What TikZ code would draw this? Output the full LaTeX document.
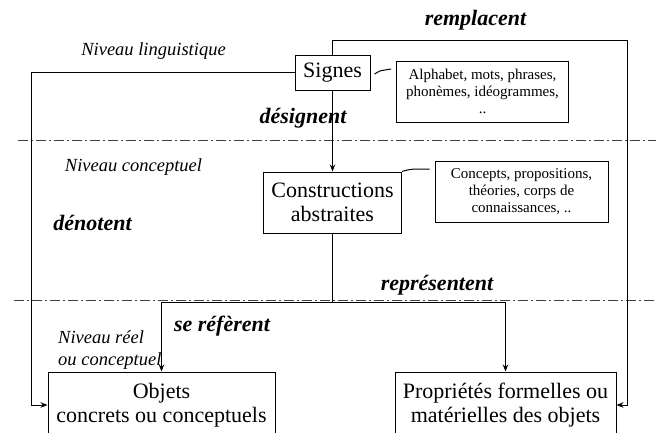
\documentclass[tikz,border=0pt]{standalone}
\usepackage{fontspec}
\setmainfont{Liberation Serif}
\usetikzlibrary{arrows.meta}

\tikzset{
    box/.style={draw, line width=1pt, align=center, inner sep=0pt, font=\fontsize{22}{24}\selectfont},
    smallbox/.style={draw, line width=1pt, align=center, inner sep=0pt, font=\fontsize{15}{17}\selectfont},
    lvl/.style={inner sep=0pt, align=left, font=\fontsize{18.5}{22}\selectfont\itshape},
    verb/.style={inner sep=0pt, font=\fontsize{22}{24}\selectfont\bfseries\itshape},
    sep/.style={black!75, line width=0.8pt, dash pattern=on 10pt off 3pt on 2pt off 3pt},
    link/.style={line width=1pt}
}

\begin{document}
\begin{tikzpicture}[x=1pt, y=-1pt, >={Stealth[length=7pt,width=5.5pt]}]
    \useasboundingbox (0,0) rectangle (656,432);
    \draw[sep] (18,140) -- (656,140);
    \draw[sep] (14,300) -- (656,300);
    \node[box, minimum width=75, minimum height=35] (sig) at (332.5,72.5) {Signes};
    \node[smallbox, minimum width=172, minimum height=61] (alpha) at (482.5,91.5) {Alphabet, mots, phrases,\\phonèmes, idéogrammes,\\..};
    \node[box, minimum width=138, minimum height=61] (cons) at (332.5,202.5) {Constructions\\abstraites};
    \node[smallbox, minimum width=173, minimum height=61] (conc) at (521.5,191.5) {Concepts, propositions,\\théories, corps de\\connaissances, ..};
    \node[box, minimum width=227, minimum height=66] (obj) at (161.5,405) {Objets\\concrets ou conceptuels};
    \node[box, minimum width=221, minimum height=66] (prop) at (505.5,405) {Propriétés formelles ou\\matérielles des objets};
    \node[lvl, anchor=base] (lling) at (153.5,55) {Niveau linguistique};
    \node[lvl, anchor=base] (lconc) at (133.5,171) {Niveau conceptuel};
    \node[lvl, anchor=north west] (lreel) at (58,330) {Niveau réel\\ou conceptuel};
    \node[verb, anchor=base] (vremp) at (475.5,25) {remplacent};
    \node[verb, anchor=base] (vdesi) at (303,123) {désignent};
    \node[verb, anchor=base] (vdeno) at (92.5,230) {dénotent};
    \node[verb, anchor=base] (vrepr) at (437,290) {représentent};
    \node[verb, anchor=base] (vrefe) at (222,331) {se réfèrent};
    \coordinate (lc) at (31,405);
    \coordinate (rc) at (627,40);
    \coordinate (fork) at (332.5,302);
    \draw[link, ->] (sig.west) -| (lc) -- (obj.west);
    \draw[link, ->] (sig.north) |- (rc) |- (prop.east);
    \draw[link, ->] (sig.south) -- (cons.north);
    \draw[link] (cons.south) -- (fork);
    \draw[link, ->] (fork) -| (obj.north);
    \draw[link, ->] (fork) -| (prop.north);
    \draw[link] ([xshift=4pt, yshift=-1.5pt]sig.east) .. controls +(4,-3) .. ([xshift=-5pt]alpha.west |- 0,69);
    \draw[link] (cons.north east) .. controls +(8,-2.5) .. ([xshift=-5pt]conc.west |- 0,169);
\end{tikzpicture}
\end{document}
